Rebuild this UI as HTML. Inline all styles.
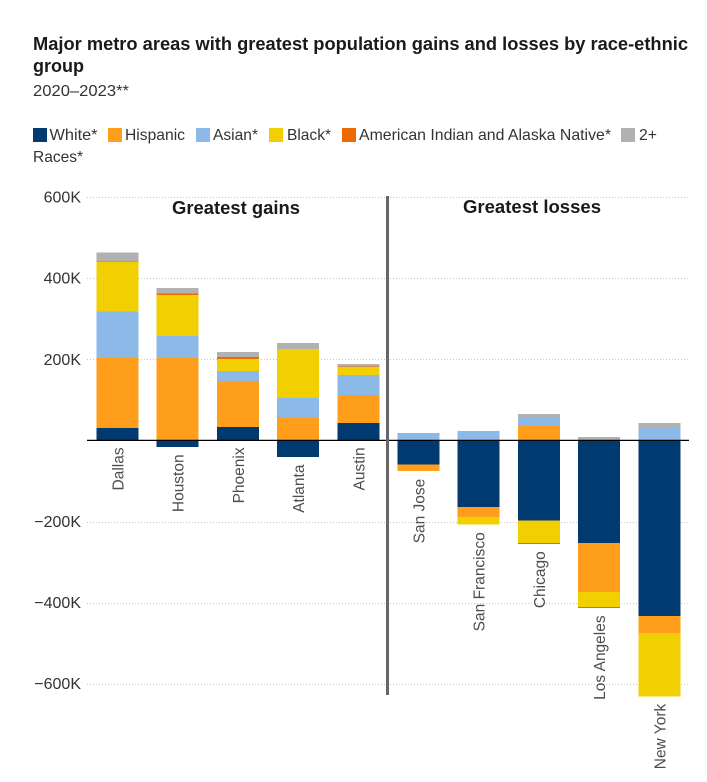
<!DOCTYPE html>
<html lang="en">
<head>
<meta charset="utf-8">
<title>Major metro areas with greatest population gains and losses</title>
<style>
html,body{margin:0;padding:0;background:#fff;}
body{width:707px;height:782px;overflow:hidden;}
svg{display:block;font-family:"Liberation Sans",sans-serif;}
</style>
</head>
<body>
<svg id="chart" width="707" height="782" viewBox="0 0 707 782" xmlns="http://www.w3.org/2000/svg">
  <text x="33" y="50" font-size="18" font-weight="700" fill="#1a1a1a" textLength="655" lengthAdjust="spacingAndGlyphs">Major metro areas with greatest population gains and losses by race-ethnic</text>
  <text x="33" y="72" font-size="18" font-weight="700" fill="#1a1a1a" textLength="51" lengthAdjust="spacingAndGlyphs">group</text>
  <text x="33" y="96" font-size="16" fill="#333" textLength="96" lengthAdjust="spacingAndGlyphs">2020–2023**</text>

  <g font-size="16" fill="#333">
    <rect x="33" y="128" width="14" height="14" fill="#003a70"/>
    <text x="49.5" y="140" textLength="48" lengthAdjust="spacingAndGlyphs">White*</text>
    <rect x="108" y="128" width="14" height="14" fill="#ff9e1b"/>
    <text x="125" y="140" textLength="60" lengthAdjust="spacingAndGlyphs">Hispanic</text>
    <rect x="196" y="128" width="14" height="14" fill="#8db9e8"/>
    <text x="213" y="140" textLength="45" lengthAdjust="spacingAndGlyphs">Asian*</text>
    <rect x="269" y="128" width="14" height="14" fill="#f2cf00"/>
    <text x="287" y="140" textLength="44" lengthAdjust="spacingAndGlyphs">Black*</text>
    <rect x="342" y="128" width="14" height="14" fill="#ed6a00"/>
    <text x="359" y="140" textLength="252" lengthAdjust="spacingAndGlyphs">American Indian and Alaska Native*</text>
    <rect x="621" y="128" width="14" height="14" fill="#b1b1b1"/>
    <text x="639" y="140" textLength="18" lengthAdjust="spacingAndGlyphs">2+</text>
    <text x="33" y="162" textLength="50" lengthAdjust="spacingAndGlyphs">Races*</text>
  </g>

  <g id="grid"></g>
  <g id="bars"></g>
  <g id="labels"></g>
  <g id="ticks"></g>

  <rect x="386" y="196" width="3" height="499" fill="#666"/>
  <text x="236" y="214" font-size="18" font-weight="700" fill="#1a1a1a" text-anchor="middle" textLength="128" lengthAdjust="spacingAndGlyphs">Greatest gains</text>
  <text x="532" y="213" font-size="18" font-weight="700" fill="#1a1a1a" text-anchor="middle" textLength="138" lengthAdjust="spacingAndGlyphs">Greatest losses</text>
</svg>
<script>
const categories = ["Dallas","Houston","Phoenix","Atlanta","Austin","San Jose","San Francisco","Chicago","Los Angeles","New York"];
const white    = [30, -16, 33, -41, 43, -60, -164, -198, -253, -433];
const hispanic = [173, 203, 113, 56, 69, -16, -25, 35, -121, -42];
const asian    = [115, 54, 25, 48, 49, 18, 23, 21, 0, 33];
const black    = [123, 102, 30, 121, 20, 0, -18, -55, -37, -156];
const aian     = [1, 3, 5, 1, 1, 0, -1, -2, -2, 0];
const twoPlus  = [21, 14, 12, 14, 6, 0, 0, 9, 8, 10];
const tickValues = [600, 400, 200, -200, -400, -600];
const tickLabels = ["600K","400K","200K","−200K","−400K","−600K"];

const seriesList = [
  {key: "white", values: white, color: "#003a70"},
  {key: "hispanic", values: hispanic, color: "#ff9e1b"},
  {key: "asian", values: asian, color: "#8db9e8"},
  {key: "black", values: black, color: "#f2cf00"},
  {key: "american-indian", values: aian, color: "#ed6a00"},
  {key: "two-plus", values: twoPlus, color: "#b1b1b1"}
];

const NS = "http://www.w3.org/2000/svg";
const yZero = 440.4;
const pxPerK = 0.4055;
const y = v => yZero - v * pxPerK;
const barWidth = 42;
const x = i => 96.5 + i * 60.2;
const slug = s => s.toLowerCase().replace(/\s+/g, "-");

function make(tag, parent, attrs, text) {
  const el = document.createElementNS(NS, tag);
  for (const k in attrs) el.setAttribute(k, attrs[k]);
  if (text !== undefined) el.textContent = text;
  parent.appendChild(el);
  return el;
}

const gridG = document.getElementById("grid");
const ticksG = document.getElementById("ticks");
const barsG = document.getElementById("bars");
const labelsG = document.getElementById("labels");

tickValues.forEach((v, i) => {
  const line = make("line", gridG, {x1: 87, x2: 689, y1: Math.round(y(v)) + 0.5, y2: Math.round(y(v)) + 0.5, stroke: "#c4c4c4", "stroke-width": 1, "stroke-dasharray": "1 2"});
  
  
  const label = make("text", ticksG, {x: 81, y: y(v) + 5.5, "text-anchor": "end", "font-size": 16, fill: "#333"}, tickLabels[i]);
  
  
});

categories.forEach((name, i) => {
  let pos = 0, neg = 0;
  seriesList.forEach(s => {
    const v = s.values[i];
    if (!v) return;
    let top, bottom;
    if (v > 0) { bottom = y(pos); pos += v; top = y(pos); }
    else { top = y(neg); neg += v; bottom = y(neg); }
    const rect = make("rect", barsG, {x: x(i), y: top, width: barWidth, height: bottom - top, fill: s.color, "shape-rendering": "crispEdges"});
    
    
  });
  const labelTop = y(neg) + (neg < 0 ? 7.5 : 7);
  const cx = x(i) + barWidth / 2 + 6;
  const label = make("text", labelsG, {transform: "translate(" + cx + " " + labelTop + ") rotate(-90)", "text-anchor": "end", "font-size": 15.5, fill: "#4d4d4d"}, name);
  
  
});

const baseline = make("line", barsG, {x1: 87, x2: 689, y1: yZero, y2: yZero, stroke: "#000", "stroke-width": 1.2});


</script>
</body>
</html>
